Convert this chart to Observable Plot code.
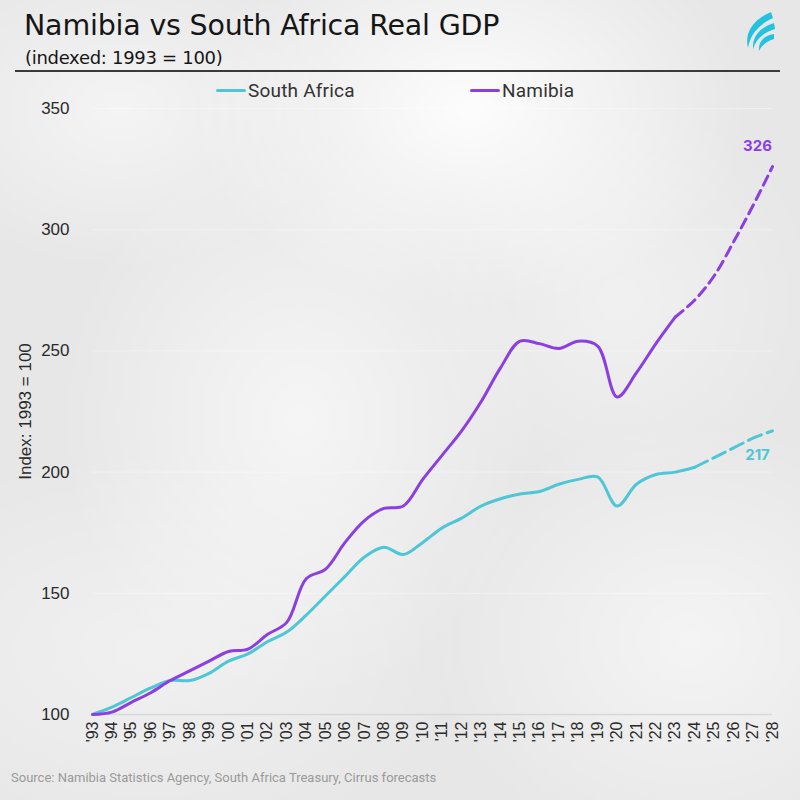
<!DOCTYPE html>
<html>
<head>
<meta charset="utf-8">
<script src="https://cdn.jsdelivr.net/npm/d3@7"></script>
<script src="https://cdn.jsdelivr.net/npm/@observablehq/plot@0.6"></script>
<style>
  html, body { margin: 0; padding: 0; }
  body {
    width: 800px; height: 800px; overflow: hidden; position: relative;
    background:
      radial-gradient(ellipse 280px 200px at 470px 110px, rgba(255,255,255,0.9), rgba(255,255,255,0) 100%),
      radial-gradient(ellipse 240px 280px at 300px 420px, rgba(255,255,255,0.6), rgba(255,255,255,0) 100%),
      radial-gradient(ellipse 220px 160px at 120px 110px, rgba(255,255,255,0.55), rgba(255,255,255,0) 100%),
      radial-gradient(ellipse 260px 220px at 690px 640px, rgba(255,255,255,0.55), rgba(255,255,255,0) 100%),
      radial-gradient(ellipse 320px 200px at 150px 650px, rgba(255,255,255,0.4), rgba(255,255,255,0) 100%),
      radial-gradient(ellipse 200px 200px at 620px 300px, rgba(255,255,255,0.4), rgba(255,255,255,0) 100%),
      #e7e7e7;
    font-family: Roboto, sans-serif;
  }
  #header { position: absolute; left: 0; top: 0; width: 800px; height: 100px; }
  #title { position: absolute; left: 24px; top: 9px; font-family: "DejaVu Sans", sans-serif; font-size: 28.5px; color: #161616; letter-spacing: -0.2px; }
  #subtitle { position: absolute; left: 25px; top: 47px; font-family: "DejaVu Sans", sans-serif; font-size: 18px; color: #161616; letter-spacing: -0.3px; }
  #rule { position: absolute; left: 15px; top: 70px; width: 765px; height: 2px; background: #3a3a3a; }
  #logo { position: absolute; left: 740px; top: 10px; }
  .leg { position: absolute; top: 79px; font-size: 19px; color: #333; display: flex; align-items: center; letter-spacing: 0.2px; }
  .sw { display: inline-block; width: 30px; height: 3px; border-radius: 2px; margin-right: 2px; }
  #chart { position: absolute; left: 0; top: 100px; }
  #caption { position: absolute; left: 11px; top: 770px; font-size: 13px; color: #9a9a9a; }
</style>
</head>
<body>
<div id="header">
  <div id="title">Namibia vs South Africa Real GDP</div>
  <div id="subtitle">(indexed: 1993 = 100)</div>
  <div id="rule"></div>
  <svg id="logo" width="40" height="44" viewBox="0 0 40 44">
    <path d="M31 2 C14 9 4 22 8 38 C10 25 18 15 33 8 Z" fill="#22c3e0"/>
    <path d="M34 13 C21 17 12 26 13 39 C16 29 24 22 35 19 Z" fill="#22c3e0"/>
    <path d="M34 24 C25 25 18 31 19 41 C22 35 27 31 34 29 Z" fill="#22c3e0"/>
  </svg>
  <div class="leg" style="left:216px"><span class="sw" style="background:#4ec6d6"></span>South Africa</div>
  <div class="leg" style="left:470px"><span class="sw" style="background:#8c3fe0"></span>Namibia</div>
</div>
<div id="chart"></div>
<div id="caption">Source: Namibia Statistics Agency, South Africa Treasury, Cirrus forecasts</div>
<script>
const years = [1993,1994,1995,1996,1997,1998,1999,2000,2001,2002,2003,2004,2005,2006,2007,2008,2009,2010,2011,2012,2013,2014,2015,2016,2017,2018,2019,2020,2021,2022,2023,2024,2025,2026,2027,2028];
const namibia = [100,101,105,109,114,118,122,126,127,133,138,156,160,171,180,185,186,197,207,217,229,243,254,253,251,254,252,231,241,253,264,271,281,295,310,326];
const southAfrica = [100,103,107,111,114,114,117,122,125,130,134,141,149,157,165,169,166,171,177,181,186,189,191,192,195,197,198,186,195,199,200,202,206,210,214,217];
const namibiaForecastFrom = 2023;
const southAfricaForecastFrom = 2024;
const yTicks = [100,150,200,250,300,350];

const NAM = "#8c3fe0", SA = "#4ec6d6";
const nam = years.map((y, i) => ({year: y, value: namibia[i]}));
const sa = years.map((y, i) => ({year: y, value: southAfrica[i]}));
const axisFont = '"Liberation Sans", Arial, sans-serif';

const chart = Plot.plot({
  width: 800,
  height: 670,
  marginLeft: 92,
  marginRight: 28,
  marginTop: 8,
  marginBottom: 56,
  style: {background: "transparent", fontFamily: axisFont, overflow: "visible"},
  x: {domain: [1993, 2028]},
  y: {domain: [100, 350]},
  marks: [
    Plot.ruleY(yTicks.slice(1), {stroke: "#ffffff", strokeOpacity: 0.35}),
    Plot.ruleY([100], {stroke: "#d8d8d8", strokeWidth: 1.5}),
    Plot.axisY({ticks: yTicks, tickSize: 0, tickPadding: 23, fontSize: 17, fill: "#2a2a2a", label: "Index: 1993 = 100", labelAnchor: "center", labelArrow: "none", labelOffset: 74}),
    Plot.axisX({ticks: years, tickSize: 0, tickPadding: 7, tickRotate: -90, fontSize: 16, fill: "#2a2a2a", tickFormat: d => "'" + String(d).slice(2), label: null}),
    Plot.line(sa.filter(d => d.year <= southAfricaForecastFrom), {x: "year", y: "value", stroke: SA, strokeWidth: 3, curve: "catmull-rom"}),
    Plot.line(sa.filter(d => d.year >= southAfricaForecastFrom), {x: "year", y: "value", stroke: SA, strokeWidth: 3, curve: "catmull-rom", strokeDasharray: "14,6"}),
    Plot.line(nam.filter(d => d.year <= namibiaForecastFrom), {x: "year", y: "value", stroke: NAM, strokeWidth: 3, curve: "catmull-rom"}),
    Plot.line(nam.filter(d => d.year >= namibiaForecastFrom), {x: "year", y: "value", stroke: NAM, strokeWidth: 3, curve: "catmull-rom", strokeDasharray: "10,6"}),
    Plot.text(nam.slice(-1), {x: "year", y: "value", text: d => String(d.value), fill: NAM, dy: -20, dx: -15, fontSize: 15, fontWeight: "bold", fontFamily: "Inter, sans-serif"}),
    Plot.text(sa.slice(-1), {x: "year", y: "value", text: d => String(d.value), fill: SA, dy: 24, dx: -15, fontSize: 15, fontWeight: "bold", fontFamily: "Inter, sans-serif"})
  ]
});
document.getElementById("chart").appendChild(chart);
</script>
</body>
</html>
